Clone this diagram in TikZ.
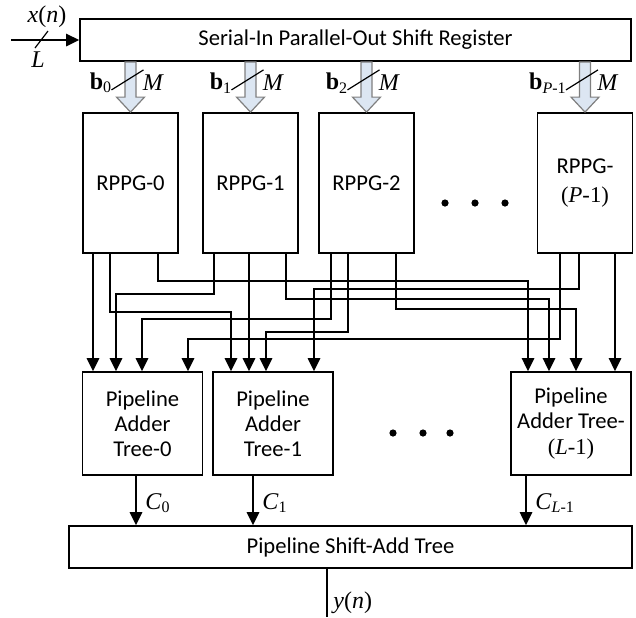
\documentclass[tikz,border=0pt]{standalone}
\usepackage{fontspec}
\setmainfont{Carlito}
\newfontfamily\tms{Liberation Serif}
\usetikzlibrary{arrows.meta,positioning,calc}
\definecolor{BusFill}{HTML}{DCE6F2}
\definecolor{BusEdge}{HTML}{7F7F7F}

\begin{document}
\begin{tikzpicture}[
      x=0.5pt, y=-0.5pt,
      block/.style={
        draw,
        line width=0.9pt,
        inner sep=1pt,
        align=center,
        font=\fontsize{11.3}{12.6}\selectfont
      },
      rppgbox/.style={block, minimum width=47.5pt, minimum height=70pt},
      adderbox/.style={block, minimum width=60pt, minimum height=51.5pt},
      widebox/.style={block, minimum height=21pt},
      wire/.style={line width=0.9pt, -{Triangle[length=6.5pt,width=6.2pt]}},
      bus/.style={draw=BusEdge, fill=BusFill, line width=0.6pt},
      sig/.style={font=\tms\fontsize{12}{14}\selectfont, inner sep=0pt}
    ]
      \useasboundingbox (0,0) rectangle (636,617);

      \node[widebox, minimum width=275.5pt] (sipo) at (355.5,40) {Serial-In Parallel-Out Shift Register};

      \node[rppgbox] (rppg0) at (130.5,183) {RPPG-0};
      \node[rppgbox] (rppg1) at (250.5,183) {RPPG-1};
      \node[rppgbox] (rppg2) at (366.5,183) {RPPG-2};
      \node[rppgbox] (rppgP) at (585,183) {RPPG-\\[2pt]{\tms(\textit{P}-1)}};

      \node[adderbox] (pat0) at (142.5,423.5) {Pipeline\\Adder\\Tree-0};
      \node[adderbox] (pat1) at (273,423.5) {Pipeline\\Adder\\Tree-1};
      \node[adderbox] (patL) at (571,423.5) {Pipeline\\Adder Tree-\\{\tms(\textit{L}-1)}};

      \node[widebox, minimum width=281.5pt] (sat) at (350.5,547) {Pipeline Shift-Add Tree};

      % serial input
      \coordinate (xin) at (11,40);
      \draw[wire] (xin) -- (sipo.west);
      \draw[line width=0.6pt] (35,48) -- (48,31);
      \node[sig] (xlbl) at (47,17) {\textit{x}(\textit{n})};
      \node[sig] (llbl) at (38,60) {\textit{L}};

      % parallel buses
      \foreach \i/\bl in {0/0,1/1,2/2,P/{\textit{P}-1}} {
        \coordinate (bt) at (sipo.south -| rppg\i.north);
        \filldraw[bus] ($(bt)+(-5.5,0)$) -- ($(rppg\i.north)+(-5.5,-15)$) -- ($(rppg\i.north)+(-14,-15)$)
          -- (rppg\i.north) -- ($(rppg\i.north)+(14,-15)$) -- ($(rppg\i.north)+(5.5,-15)$) -- ($(bt)+(5.5,0)$) -- cycle;
        \draw[line width=0.6pt] ($(bt)+(-19,28)$) -- ($(bt)+(13,8)$);
        \node[sig, anchor=east] (b\i) at ($(bt)+(-18,21)$) {\textbf{b}\textsubscript{\bl}};
        \node[sig, anchor=west] (m\i) at ($(bt)+(12,21)$) {\textit{M}};
      }

      % partial products to adder trees
      \foreach \src/\xa/\yy/\dst/\xb in {
          rppg0/93/330/pat0/93, rppg0/110/312/pat1/231, rppg0/158/281/patL/528,
          rppg1/214/294/pat0/116, rppg1/249/330/pat1/249, rppg1/286/299/patL/549,
          rppg2/331/319/pat0/142, rppg2/348/332/pat1/266, rppg2/396/309/patL/576,
          rppgP/560/339/pat0/188, rppgP/579/289/pat1/314, rppgP/615/330/patL/615}
        \draw[wire] (\src.south -| \xa,0) -- (\xa,\yy) -- (\xb,\yy) -- (\dst.north -| \xb,0);

      \foreach \x in {445,475,505} \fill (\x,203) circle (1.8pt);
      \foreach \x in {393,423,450} \fill (\x,433) circle (1.8pt);

      % adder tree outputs
      \foreach \src/\xa/\sub in {pat0/136/0, pat1/253/1, patL/526/{\textit{L}-1}} {
        \draw[wire] (\src.south -| \xa,0) -- (sat.north -| \xa,0);
        \node[sig, anchor=west] (c\src) at (\xa+9,503) {\textit{C}\textsubscript{\sub}};
      }

      \coordinate (yout) at (327,617);
      \draw[line width=0.9pt] (sat.south -| yout) -- (yout);
      \node[sig, anchor=west] (ylbl) at (333,603) {\textit{y}(\textit{n})};
    \end{tikzpicture}
\end{document}
